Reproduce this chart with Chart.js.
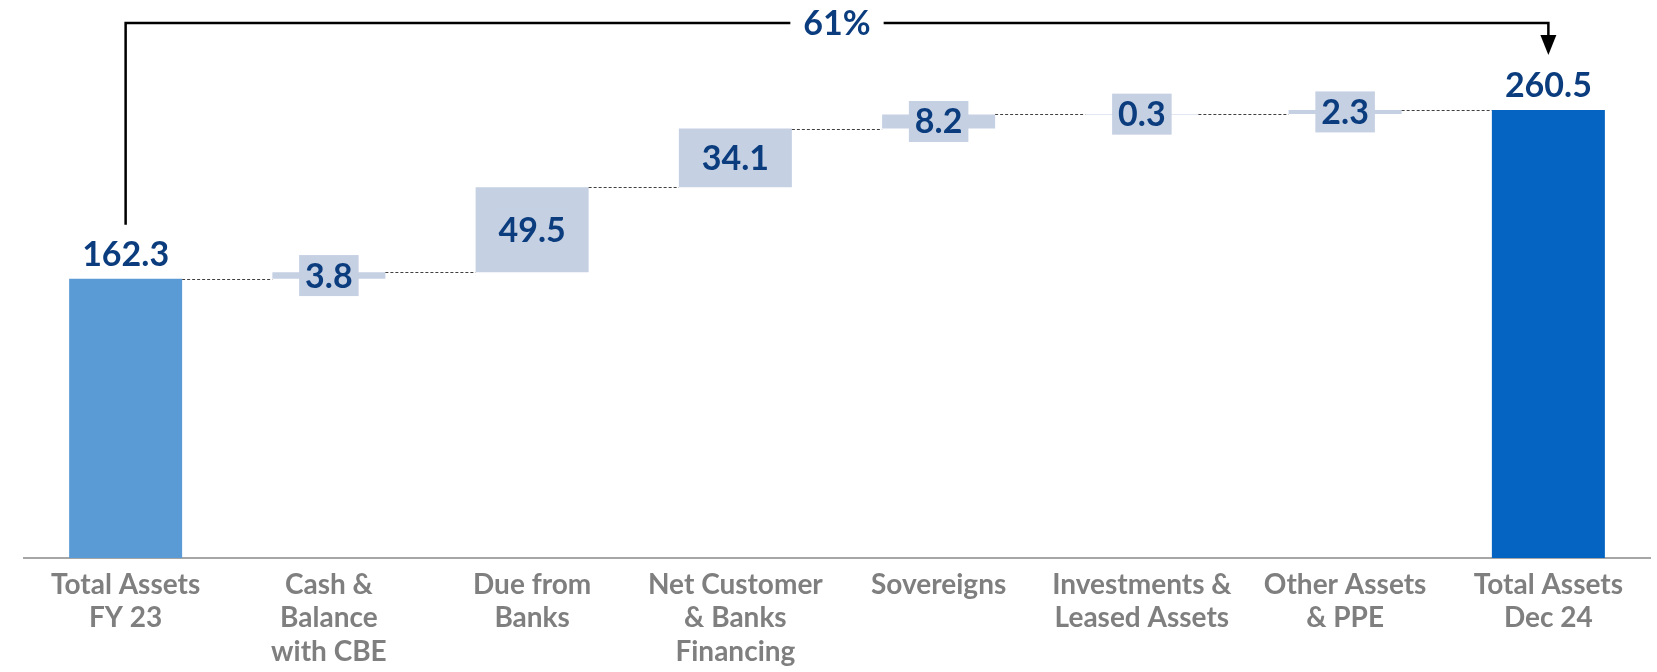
<!DOCTYPE html>
<html>
<head>
<meta charset="utf-8">
<script src="https://cdn.jsdelivr.net/npm/chart.js@4.4.1/dist/chart.umd.min.js"></script>
<style>
    body { margin: 0; background: #fff; }
    #wrap { width: 1657px; height: 672px; position: relative; }
</style>
</head>
<body>
<div id="wrap"><canvas id="waterfall"></canvas></div>
<script>
var categories = [
    ["Total Assets", "FY 23"],
    ["Cash &", "Balance", "with CBE"],
    ["Due from", "Banks"],
    ["Net Customer", "& Banks", "Financing"],
    ["Sovereigns"],
    ["Investments &", "Leased Assets"],
    ["Other Assets", "& PPE"],
    ["Total Assets", "Dec 24"]
];
var changes = [162.3, 3.8, 49.5, 34.1, 8.2, 0.3, 2.3, 260.5];
var isTotal = [true, false, false, false, false, false, false, true];
var growthLabel = "61%";

var NAVY = '#0B3D7E';
var DELTA = '#C5D0E3';

// turn the changes into floating [start, end] bars
var running = 0;
var floating = changes.map(function (v, i) {
    if (isTotal[i]) {
        running = v;
        return [0, v];
    }
    var start = running;
    running = Math.round((running + v) * 10) / 10;
    return [start, running];
});

function barColor(i) {
    if (!isTotal[i]) return DELTA;
    return i === 0 ? '#5B9BD5' : '#0563C1';
}

var waterfallExtras = {
    id: 'waterfallExtras',
    afterDatasetsDraw: function (chart) {
        var ctx = chart.ctx;
        var meta = chart.getDatasetMeta(0);
        var y = chart.scales.y;
        var bars = meta.data;
        ctx.save();

        // dashed connectors between bars
        ctx.strokeStyle = '#404040';
        ctx.lineWidth = 1;
        ctx.setLineDash([3, 2]);
        for (var i = 0; i < bars.length - 1; i++) {
            var py = Math.round(y.getPixelForValue(floating[i][1])) + 0.5;
            ctx.beginPath();
            ctx.moveTo(bars[i].x + bars[i].width / 2, py);
            ctx.lineTo(bars[i + 1].x - bars[i + 1].width / 2, py);
            ctx.stroke();
        }
        ctx.setLineDash([]);

        // value labels
        ctx.font = 'bold 34px Lato';
        ctx.textAlign = 'center';
        bars.forEach(function (bar, i) {
            var txt = changes[i].toFixed(1);
            if (isTotal[i]) {
                ctx.fillStyle = NAVY;
                ctx.textBaseline = 'alphabetic';
                ctx.fillText(txt, bar.x, bar.y - 13);
            } else {
                var w = ctx.measureText(txt).width + 12;
                var h = 41;
                var cy = (bar.y + bar.base) / 2;
                ctx.fillStyle = DELTA;
                ctx.fillRect(bar.x - w / 2, cy - h / 2, w, h);
                ctx.fillStyle = NAVY;
                ctx.textBaseline = 'middle';
                ctx.fillText(txt, bar.x, cy + 1);
            }
        });

        // growth bracket from first total to last total
        var first = bars[0], last = bars[bars.length - 1];
        var topY = chart.chartArea.top - 19;
        var startY = first.y - 54;
        var tipY = last.y - 55;
        var midX = (first.x + last.x) / 2;
        var gap = ctx.measureText(growthLabel).width / 2 + 13;

        ctx.strokeStyle = '#000';
        ctx.lineWidth = 2.5;
        ctx.beginPath();
        ctx.moveTo(first.x, startY);
        ctx.lineTo(first.x, topY);
        ctx.lineTo(midX - gap, topY);
        ctx.moveTo(midX + gap, topY);
        ctx.lineTo(last.x, topY);
        ctx.lineTo(last.x, tipY - 18);
        ctx.stroke();

        ctx.fillStyle = '#000';
        ctx.beginPath();
        ctx.moveTo(last.x - 8, tipY - 20);
        ctx.lineTo(last.x + 8, tipY - 20);
        ctx.lineTo(last.x, tipY);
        ctx.closePath();
        ctx.fill();

        ctx.fillStyle = NAVY;
        ctx.textBaseline = 'middle';
        ctx.fillText(growthLabel, midX, topY + 1);

        ctx.restore();
    }
};

function drawChart() {
    var ctx = document.getElementById('waterfall');
    new Chart(ctx, {
        type: 'bar',
        data: {
            labels: categories,
            datasets: [{
                label: 'Total Assets',
                data: floating,
                backgroundColor: changes.map(function (v, i) { return barColor(i); }),
                borderWidth: 0,
                borderSkipped: false,
                barPercentage: 0.556,
                categoryPercentage: 1
            }]
        },
        options: {
            responsive: true,
            maintainAspectRatio: false,
            animation: false,
            layout: { padding: { top: 42, left: 24, right: 7, bottom: 0 } },
            plugins: {
                legend: { display: false },
                tooltip: { enabled: false }
            },
            scales: {
                x: {
                    grid: { display: false, drawTicks: false },
                    border: { display: true, color: '#A6A6A6', width: 2 },
                    ticks: {
                        color: '#7F7F7F',
                        font: { family: 'Lato', weight: 'bold', size: 28, lineHeight: 1.2 },
                        padding: 10,
                        maxRotation: 0,
                        autoSkip: false
                    },
                    afterFit: function (axis) { axis.height = 114; }
                },
                y: {
                    display: false,
                    min: 0,
                    max: 300
                }
            }
        },
        plugins: [waterfallExtras]
    });
}

if (document.fonts && document.fonts.load) {
    Promise.all([
        document.fonts.load('bold 34px Lato'),
        document.fonts.load('bold 28px Lato')
    ]).then(drawChart, drawChart);
} else {
    drawChart();
}
</script>
</body>
</html>
